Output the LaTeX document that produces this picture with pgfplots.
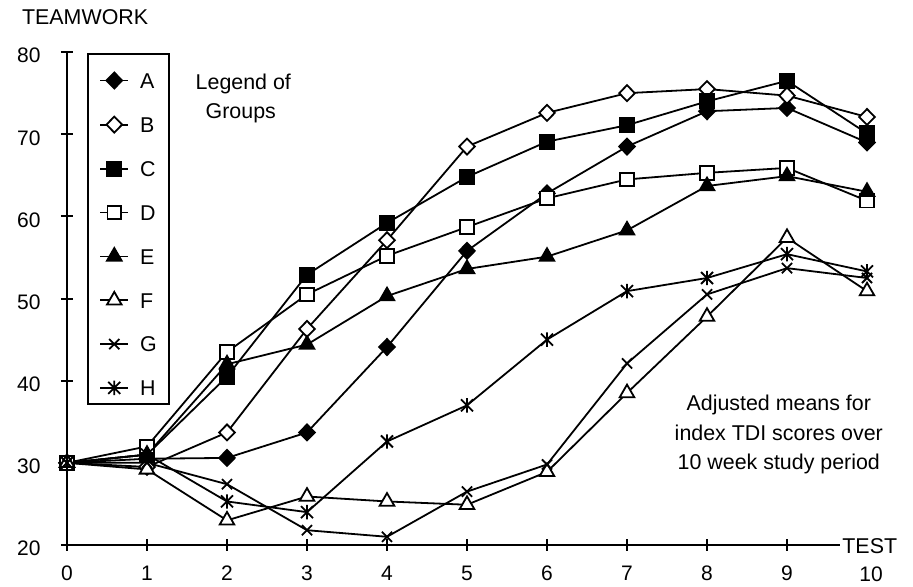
\documentclass[border=0pt]{standalone}
\usepackage{pgfplots}
\pgfplotsset{compat=1.18}
\usepackage{fontspec}
\setmainfont{Liberation Sans}
\pgfdeclareplotmark{xstar}{%
  \pgfpathmoveto{\pgfqpoint{-\pgfplotmarksize}{-\pgfplotmarksize}}%
  \pgfpathlineto{\pgfqpoint{\pgfplotmarksize}{\pgfplotmarksize}}%
  \pgfpathmoveto{\pgfqpoint{-\pgfplotmarksize}{\pgfplotmarksize}}%
  \pgfpathlineto{\pgfqpoint{\pgfplotmarksize}{-\pgfplotmarksize}}%
  \pgfpathmoveto{\pgfqpoint{0pt}{-1.2\pgfplotmarksize}}%
  \pgfpathlineto{\pgfqpoint{0pt}{1.2\pgfplotmarksize}}%
  \pgfusepathqstroke}
\begin{document}
\begin{tikzpicture}
\useasboundingbox (-33.5pt,-21pt) rectangle (423pt,272.5pt);
\begin{axis}[
  x=40pt, y=4.1075pt,
  xmin=0, xmax=9.66, ymin=20, ymax=80,
  clip=false,
  axis x line=bottom, axis y line=left,
  axis line style={-, line width=1pt, black},
  xtick={0,...,9},
  ytick={20,30,...,80},
  tick align=center, major tick length=6pt,
  tick style={line width=1pt, black},
  /pgf/number format/assume math mode=true,
  xticklabel style={anchor=base, inner sep=0pt, yshift=-14.8pt, font=\fontsize{10.5}{12}\selectfont},
  yticklabel style={anchor=east, inner sep=0pt, xshift=-10pt, yshift=-1.8pt, font=\fontsize{10.5}{12}\selectfont},
  every axis plot/.append style={line width=0.9pt, black},
  legend image code/.code={\draw[mark repeat=2,mark phase=2,#1] plot coordinates {(0pt,3.85pt) (7pt,3.85pt) (14pt,3.85pt)};},
  legend style={draw=none, fill=none, at={(axis cs:0.4,77.6)}, anchor=north west,
    inner sep=0pt, row sep=13.9pt, column sep=5.5pt,
    nodes={inner sep=0pt, text height=8pt, text depth=0pt, anchor=base west},
    font=\fontsize{10.7}{12}\selectfont},
  legend cell align=left,
]
\addplot[mark=diamond*, mark size=4pt, mark options={fill=black, xscale=1.3}] coordinates {(0,30)(1,30.5)(2,30.6)(3,33.7)(4,44.1)(5,55.8)(6,62.8)(7,68.5)(8,72.8)(9,73.2)(10,69)};
\addplot[mark=diamond*, mark size=4pt, mark options={fill=white, xscale=1.3}] coordinates {(0,30)(1,29.5)(2,33.7)(3,46.3)(4,57.1)(5,68.5)(6,72.6)(7,75)(8,75.5)(9,74.7)(10,72.1)};
\addplot[mark=square*, mark size=3.6pt, mark options={fill=black}] coordinates {(0,30)(1,31)(2,40.5)(3,52.9)(4,59.2)(5,64.8)(6,69.1)(7,71.1)(8,74)(9,76.5)(10,70.1)};
\addplot[mark=square*, mark size=3.4pt, mark options={fill=white}] coordinates {(0,30)(1,32)(2,43.5)(3,50.5)(4,55.2)(5,58.7)(6,62.2)(7,64.5)(8,65.3)(9,65.9)(10,61.9)};
\addplot[mark=triangle*, mark size=4.2pt, mark options={fill=black}] coordinates {(0,30)(1,31)(2,42)(3,44.4)(4,50.3)(5,53.6)(6,55.1)(7,58.3)(8,63.7)(9,64.9)(10,63)};
\addplot[mark=triangle*, mark size=4.2pt, mark options={fill=white}] coordinates {(0,30)(1,29.2)(2,23)(3,25.9)(4,25.3)(5,24.9)(6,28.9)(7,38.5)(8,47.8)(9,57.4)(10,50.9)};
\addplot[mark=x, mark size=3.6pt] coordinates {(0,30)(1,30)(2,27.4)(3,21.8)(4,21)(5,26.5)(6,29.8)(7,42.1)(8,50.5)(9,53.7)(10,52.5)};
\addplot[mark=xstar, mark size=3pt] coordinates {(0,30)(1,31)(2,25.3)(3,24)(4,32.6)(5,37)(6,45)(7,50.9)(8,52.5)(9,55.4)(10,53.3)};
\legend{A,B,C,D,E,F,G,H}
\node[anchor=base west, inner sep=0pt, font=\fontsize{10.7}{12}\selectfont] at (axis cs:-0.566,83.30) {TEAMWORK};
\node[anchor=base west, inner sep=0pt, font=\fontsize{10.7}{12}\selectfont] at (axis cs:9.6875,18.99) {TEST};
\node[anchor=base, inner sep=0pt, font=\fontsize{10.5}{12}\selectfont] at (axis cs:10.05,15.5) {10};
\node[anchor=base, inner sep=0pt, font=\fontsize{10.7}{12}\selectfont] at (axis cs:2.204,75.47) {Legend of};
\node[anchor=base, inner sep=0pt, font=\fontsize{10.7}{12}\selectfont] at (axis cs:2.1725,71.94) {Groups};
\node[anchor=base, inner sep=0pt, font=\fontsize{10.7}{12}\selectfont] at (axis cs:8.8975,36.43) {Adjusted means for};
\node[anchor=base, inner sep=0pt, font=\fontsize{10.7}{12}\selectfont] at (axis cs:8.8975,32.78) {index TDI scores over};
\node[anchor=base, inner sep=0pt, font=\fontsize{10.7}{12}\selectfont] at (axis cs:8.8975,29.21) {10 week study period};
\draw[line width=1pt] (axis cs:0.266,79.77) rectangle (axis cs:1.279,37.16);
\end{axis}
\end{tikzpicture}
\end{document}
